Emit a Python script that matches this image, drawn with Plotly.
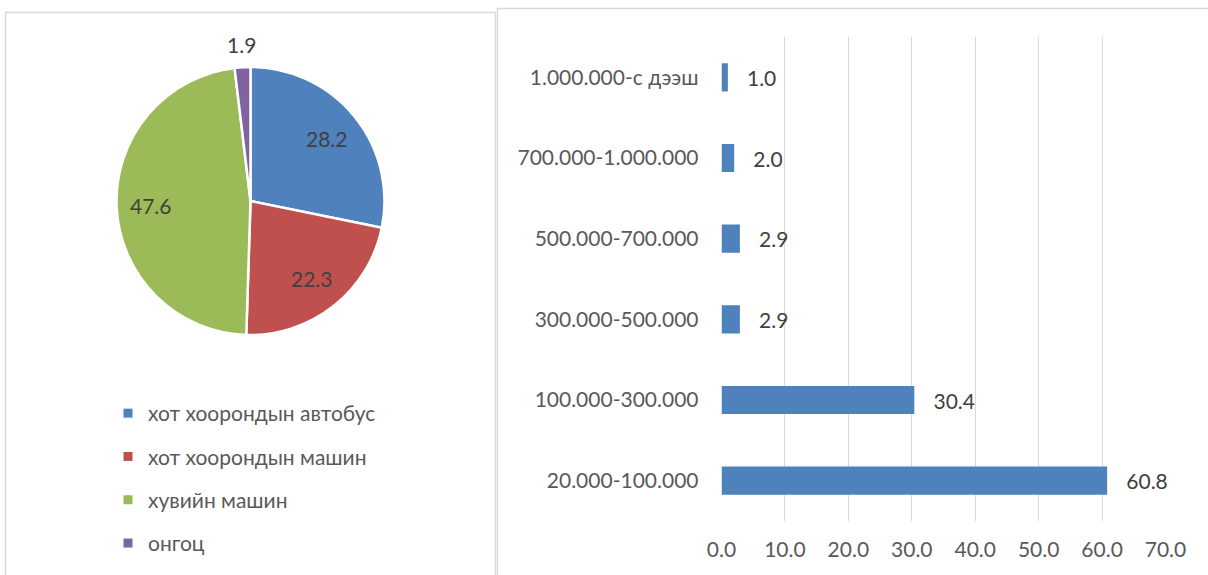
import math
import plotly.graph_objects as go

W, H = 1208, 575

# Pie: transport mode shares (%)
modes = ["хот хоорондын автобус", "хот хоорондын машин", "хувийн машин", "онгоц"]
mode_shares = [28.2, 22.3, 47.6, 1.9]
mode_colors = ["#4F81BD", "#C0504D", "#9BBB59", "#8064A2"]

# Bars: spending ranges (%)
ranges = ["20.000-100.000", "100.000-300.000", "300.000-500.000",
          "500.000-700.000", "700.000-1.000.000", "1.000.000-с дээш"]
range_shares = [60.8, 30.4, 2.9, 2.9, 2.0, 1.0]
x_ticks = [0, 10, 20, 30, 40, 50, 60, 70]

FONT = "Lato, Carlito, Calibri, sans-serif"
TXT = "#595959"
LBL = "#404040"
FS = 21

def px(x):
    return x / W

def py(y):
    return 1 - y / H

fig = go.Figure()

# pie centred at (250.5, 201) px, radius 134 px
cx, cy, r = 250.5, 201, 134
fig.add_trace(go.Pie(
    labels=modes, values=mode_shares, sort=False, direction="clockwise",
    rotation=0,
    marker=dict(colors=mode_colors, line=dict(color="white", width=2.5)),
    textinfo="none",
    domain=dict(x=[px(cx - r), px(cx + r)], y=[py(cy + r), py(cy - r)]),
    showlegend=False, hoverinfo="label+value",
))

# slice value labels placed along each slice's bisector
annotations = []
total = sum(mode_shares)
cum = 0.0
for v in mode_shares:
    mid = (cum + v / 2) / total * 2 * math.pi
    cum += v
    d = 0.74 * r if v / total > 0.05 else 1.17 * r
    annotations.append(dict(
        x=px(cx + d * math.sin(mid)), y=py(cy - d * math.cos(mid)),
        xref="paper", yref="paper", text=f"{v:.1f}", showarrow=False,
        xanchor="center", yanchor="middle",
        font=dict(family=FONT, size=FS, color=LBL),
    ))

# legend entries for the pie
for name, col in zip(modes, mode_colors):
    fig.add_trace(go.Scatter(
        x=[None], y=[None], mode="markers", name=name,
        marker=dict(symbol="square", size=9, color=col),
        legendgroup=name, xaxis="x2", yaxis="y2",
    ))

fig.add_trace(go.Bar(
    x=range_shares, y=ranges, orientation="h",
    marker=dict(color="#4F81BD", line=dict(width=0)),
    text=[f"   {v:.1f}" for v in range_shares], textposition="outside",
    textfont=dict(family=FONT, size=FS, color=LBL),
    cliponaxis=False, showlegend=False,
))

fig.update_layout(
    width=W, height=H,
    margin=dict(l=0, r=0, t=0, b=0),
    paper_bgcolor="white", plot_bgcolor="white",
    font=dict(family=FONT, size=FS, color=TXT),
    bargap=0.65,
    xaxis=dict(
        domain=[px(721.5), px(1165.5)], range=[0, 70],
        tickvals=x_ticks, ticktext=[f"{v:.1f}" for v in x_ticks],
        showgrid=True, gridcolor="#D9D9D9", gridwidth=1,
        zeroline=False, showline=False, ticks="", ticklabelstandoff=14,
        automargin=False, tickfont=dict(family=FONT, size=FS, color=TXT),
    ),
    yaxis=dict(
        domain=[py(521), py(37)], categoryorder="array", categoryarray=ranges,
        showgrid=False, zeroline=False, showline=False, ticks="",
        ticklabelstandoff=22, automargin=False,
        tickfont=dict(family=FONT, size=FS, color=TXT),
    ),
    xaxis2=dict(domain=[0, 0.01], visible=False),
    yaxis2=dict(domain=[0, 0.01], visible=False),
    legend=dict(
        x=px(108), y=py(393), xanchor="left", yanchor="top",
        font=dict(family=FONT, size=FS, color=TXT),
        tracegroupgap=13, itemwidth=30, bgcolor="rgba(0,0,0,0)",
    ),
    annotations=annotations,
    shapes=[
        dict(type="rect", xref="paper", yref="paper",
             x0=px(5.5), x1=px(495.5), y0=py(600), y1=py(12.5),
             line=dict(color="#D9D9D9", width=1.5)),
        dict(type="rect", xref="paper", yref="paper",
             x0=px(497.5), x1=px(1220), y0=py(600), y1=py(8.5),
             line=dict(color="#D9D9D9", width=1.5)),
    ],
)

fig.write_html("out.html")
